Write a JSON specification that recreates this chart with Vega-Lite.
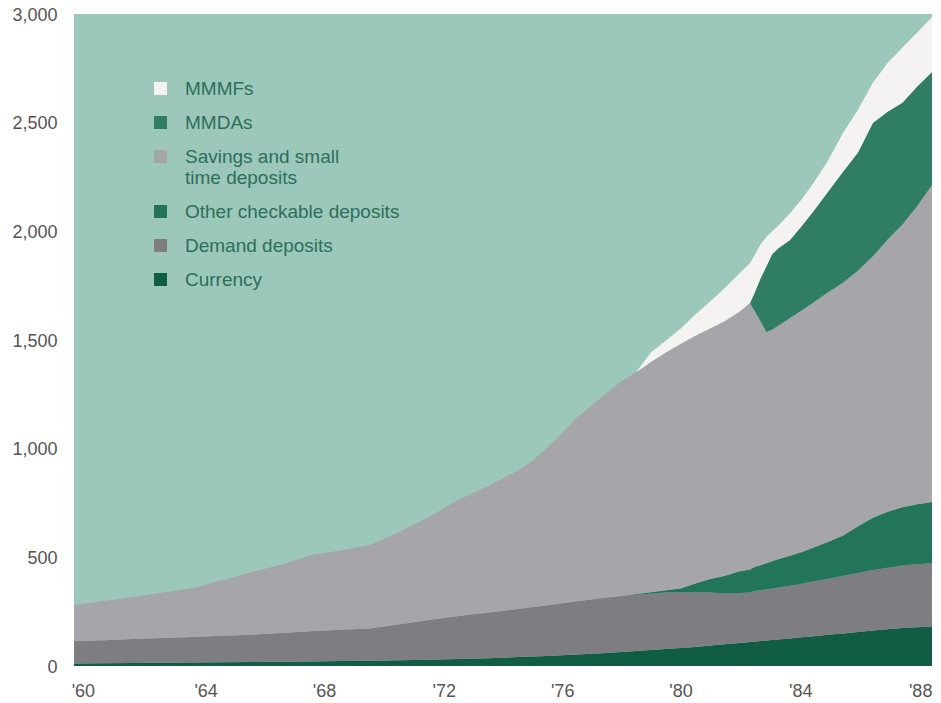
{
  "$schema": "https://vega.github.io/schema/vega-lite/v6.json",
  "width": 858,
  "height": 652,
  "autosize": {"type": "none"},
  "padding": {"left": 74, "top": 14, "right": 9, "bottom": 37},
  "background": "#ffffff",
  "config": {
    "view": {"fill": "#9cc8bc", "stroke": null},
    "font": "Liberation Sans"
  },
  "data": {
    "values": [
      {"t": 1960, "cur": 12, "dd": 103, "ocd": 0, "sav": 166, "mmda": 0, "mmmf": 0},
      {"t": 1961, "cur": 13, "dd": 106, "ocd": 0, "sav": 180, "mmda": 0, "mmmf": 0},
      {"t": 1962, "cur": 14, "dd": 110, "ocd": 0, "sav": 193, "mmda": 0, "mmmf": 0},
      {"t": 1963, "cur": 15, "dd": 114, "ocd": 0, "sav": 209, "mmda": 0, "mmmf": 0},
      {"t": 1964, "cur": 16, "dd": 118, "ocd": 0, "sav": 224, "mmda": 0, "mmmf": 0},
      {"t": 1965, "cur": 17, "dd": 122, "ocd": 0, "sav": 256, "mmda": 0, "mmmf": 0},
      {"t": 1966, "cur": 18, "dd": 126, "ocd": 0, "sav": 288, "mmda": 0, "mmmf": 0},
      {"t": 1967, "cur": 19.5, "dd": 132.5, "ocd": 0, "sav": 314, "mmda": 0, "mmmf": 0},
      {"t": 1968, "cur": 21, "dd": 139, "ocd": 0, "sav": 350, "mmda": 0, "mmmf": 0},
      {"t": 1969, "cur": 22.5, "dd": 144.5, "ocd": 0, "sav": 365, "mmda": 0, "mmmf": 0},
      {"t": 1970, "cur": 24, "dd": 148, "ocd": 0, "sav": 385, "mmda": 0, "mmmf": 0},
      {"t": 1971, "cur": 26.5, "dd": 165.5, "ocd": 0, "sav": 425, "mmda": 0, "mmmf": 0},
      {"t": 1972, "cur": 29, "dd": 183, "ocd": 0, "sav": 474, "mmda": 0, "mmmf": 0},
      {"t": 1973, "cur": 32.5, "dd": 197.5, "ocd": 0, "sav": 535, "mmda": 0, "mmmf": 0},
      {"t": 1974, "cur": 36, "dd": 210, "ocd": 0, "sav": 583, "mmda": 0, "mmmf": 0},
      {"t": 1975, "cur": 41, "dd": 221, "ocd": 0, "sav": 638, "mmda": 0, "mmmf": 0},
      {"t": 1975.5, "cur": 43.5, "dd": 227.5, "ocd": 0, "sav": 674, "mmda": 0, "mmmf": 0},
      {"t": 1976, "cur": 46, "dd": 234, "ocd": 0, "sav": 725, "mmda": 0, "mmmf": 0},
      {"t": 1976.5, "cur": 49.5, "dd": 239.5, "ocd": 0, "sav": 783, "mmda": 0, "mmmf": 0},
      {"t": 1977, "cur": 53, "dd": 245, "ocd": 0, "sav": 845, "mmda": 0, "mmmf": 0},
      {"t": 1977.5, "cur": 56.5, "dd": 249.5, "ocd": 0, "sav": 894, "mmda": 0, "mmmf": 0},
      {"t": 1978, "cur": 60, "dd": 255, "ocd": 0, "sav": 940, "mmda": 0, "mmmf": 0},
      {"t": 1978.5, "cur": 64.5, "dd": 257.5, "ocd": 0, "sav": 988, "mmda": 0, "mmmf": 0},
      {"t": 1979, "cur": 69, "dd": 259, "ocd": 3, "sav": 1021, "mmda": 0, "mmmf": 0},
      {"t": 1979.5, "cur": 73.5, "dd": 259.5, "ocd": 6, "sav": 1060, "mmda": 0, "mmmf": 44},
      {"t": 1980, "cur": 78, "dd": 260, "ocd": 10, "sav": 1094, "mmda": 0, "mmmf": 54},
      {"t": 1980.5, "cur": 83, "dd": 256, "ocd": 18, "sav": 1125, "mmda": 0, "mmmf": 70},
      {"t": 1981, "cur": 88, "dd": 252, "ocd": 40, "sav": 1139, "mmda": 0, "mmmf": 98},
      {"t": 1981.5, "cur": 94, "dd": 244, "ocd": 62, "sav": 1153, "mmda": 0, "mmmf": 124},
      {"t": 1982, "cur": 100, "dd": 235, "ocd": 80, "sav": 1172, "mmda": 0, "mmmf": 152},
      {"t": 1982.5, "cur": 106, "dd": 230, "ocd": 100, "sav": 1195, "mmda": 0, "mmmf": 176},
      {"t": 1982.85, "cur": 110, "dd": 228, "ocd": 106, "sav": 1226, "mmda": 0, "mmmf": 184},
      {"t": 1983, "cur": 112, "dd": 233, "ocd": 110, "sav": 1180, "mmda": 80, "mmmf": 175},
      {"t": 1983.2, "cur": 114.5, "dd": 234.5, "ocd": 115, "sav": 1124, "mmda": 194, "mmmf": 156},
      {"t": 1983.4, "cur": 117, "dd": 236, "ocd": 120, "sav": 1064, "mmda": 301, "mmmf": 136},
      {"t": 1983.6, "cur": 119.5, "dd": 237.5, "ocd": 125, "sav": 1066, "mmda": 346, "mmmf": 106},
      {"t": 1983.8, "cur": 122, "dd": 239, "ocd": 130, "sav": 1075, "mmda": 355, "mmmf": 105},
      {"t": 1984.2, "cur": 127, "dd": 242, "ocd": 138, "sav": 1094, "mmda": 359, "mmmf": 123},
      {"t": 1984.6, "cur": 132, "dd": 247, "ocd": 146, "sav": 1112, "mmda": 387, "mmmf": 124},
      {"t": 1985, "cur": 137, "dd": 253, "ocd": 155, "sav": 1129, "mmda": 420, "mmmf": 130},
      {"t": 1985.5, "cur": 143.5, "dd": 258.5, "ocd": 170, "sav": 1149, "mmda": 464, "mmmf": 144},
      {"t": 1986, "cur": 150, "dd": 265, "ocd": 185, "sav": 1165, "mmda": 510, "mmmf": 180},
      {"t": 1986.5, "cur": 156.5, "dd": 271.5, "ocd": 215, "sav": 1177, "mmda": 543, "mmmf": 196},
      {"t": 1987, "cur": 163, "dd": 279, "ocd": 240, "sav": 1203, "mmda": 613, "mmmf": 186},
      {"t": 1987.5, "cur": 169, "dd": 283, "ocd": 258, "sav": 1253, "mmda": 587, "mmmf": 224},
      {"t": 1988, "cur": 175, "dd": 287, "ocd": 268, "sav": 1301, "mmda": 561, "mmmf": 254},
      {"t": 1988.5, "cur": 178.5, "dd": 289.5, "ocd": 276, "sav": 1372, "mmda": 550, "mmmf": 249},
      {"t": 1989, "cur": 182, "dd": 292, "ocd": 281, "sav": 1458, "mmda": 520, "mmmf": 253}
    ]
  },
  "transform": [
    {"fold": ["cur", "dd", "ocd", "sav", "mmda", "mmmf"], "as": ["series", "value"]},
    {"calculate": "indexof(['cur','dd','ocd','sav','mmda','mmmf'], datum.series)", "as": "k"}
  ],
  "mark": {"type": "area", "opacity": 1, "interpolate": "linear"},
  "encoding": {
    "x": {
      "field": "t",
      "type": "quantitative",
      "scale": {"domain": [1960, 1989], "nice": false, "zero": false},
      "axis": {
        "title": null,
        "values": [1960.3, 1964.45, 1968.45, 1972.5, 1976.5, 1980.5, 1984.55, 1988.6],
        "labelExpr": "\"'\" + substring(toString(floor(datum.value)), 2, 4)",
        "domain": false,
        "ticks": false,
        "grid": false,
        "labelFontSize": 18,
        "labelColor": "#555555",
        "labelPadding": 16,
        "labelBaseline": "top",
        "labelFlush": false
      }
    },
    "y": {
      "field": "value",
      "type": "quantitative",
      "stack": "zero",
      "scale": {"domain": [0, 3000], "nice": false},
      "axis": {
        "title": null,
        "values": [0, 500, 1000, 1500, 2000, 2500, 3000],
        "format": ",d",
        "domain": false,
        "ticks": false,
        "grid": false,
        "labelFontSize": 18,
        "labelColor": "#555555",
        "labelPadding": 17,
        "labelOffset": 1,
        "labelFlush": false
      }
    },
    "order": {"field": "k", "type": "quantitative"},
    "color": {
      "field": "series",
      "type": "nominal",
      "scale": {
        "domain": ["mmmf", "mmda", "sav", "ocd", "dd", "cur"],
        "range": ["#f4f3f1", "#2f7e63", "#a6a5aa", "#237559", "#7e7d82", "#105d43"]
      },
      "legend": {
        "title": null,
        "orient": "none",
        "legendX": 77,
        "legendY": 65,
        "padding": 0,
        "symbolType": "square",
        "symbolSize": 169,
        "symbolStrokeWidth": 0,
        "symbolOpacity": 1,
        "labelFontSize": 19,
        "labelColor": "#2d6f59",
        "labelOffset": 15,
        "rowPadding": 14,
        "labelLimit": 400,
        "labelExpr": "datum.label == 'mmmf' ? 'MMMFs' : datum.label == 'mmda' ? 'MMDAs' : datum.label == 'sav' ? ['Savings and small', 'time deposits'] : datum.label == 'ocd' ? 'Other checkable deposits' : datum.label == 'dd' ? 'Demand deposits' : 'Currency'"
      }
    }
  }
}
